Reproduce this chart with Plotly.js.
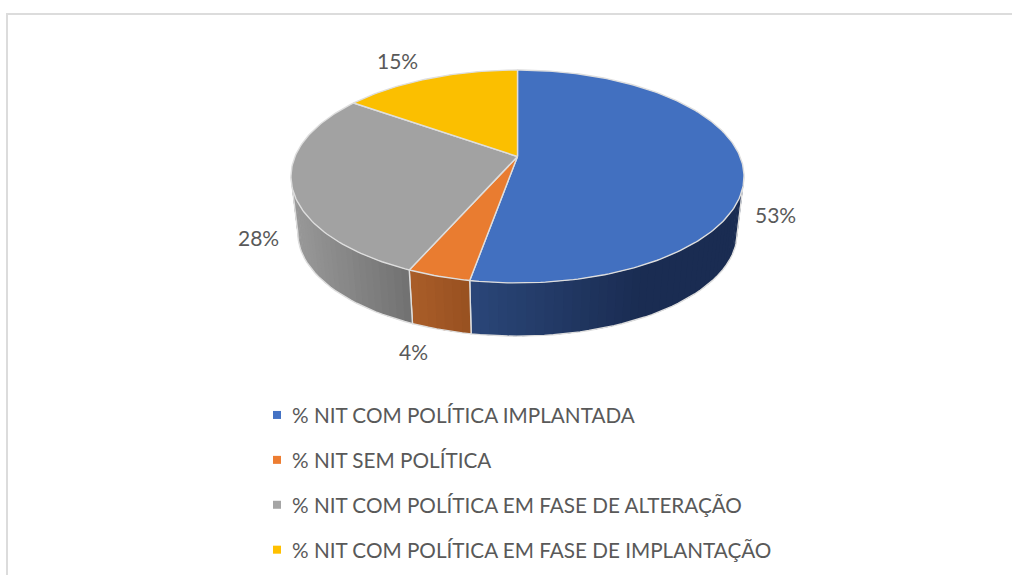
<!DOCTYPE html>
<html><head><meta charset="utf-8">
<script src="https://cdn.plot.ly/plotly-3.0.1.min.js"></script>
<style>
html,body{margin:0;padding:0;background:#fff;overflow:hidden}
#chart{width:1012px;height:575px}
.legend .scatterpts{transform:translate(25px,0)}
</style></head><body><div id="chart"></div>
<script>
const categories = ['% NIT COM POLÍTICA IMPLANTADA','% NIT SEM POLÍTICA','% NIT COM POLÍTICA EM FASE DE ALTERAÇÃO','% NIT COM POLÍTICA EM FASE DE IMPLANTAÇÃO'];
const values = [52.8, 3.8, 28.2, 15.2];
const topColors = ['#4270c0','#e97c30','#a2a2a2','#fbbf00'];
const legendColors = ['#4472c4','#ed7d31','#a5a5a5','#ffc000'];
const wallLeft  = ['#2a4678','#a85c28','#979797','#000000'];
const wallRight = ['#1a2c52','#975020','#6f6f6f','#000000'];
const wallSpan  = [[471,640],[413,471],[297,413],[0,1]];
const labelPos  = [[775,214],[413,351],[258,237],[397,60]];

// projected disc geometry
const cx=517.5, cy=156.5, A=222.5, B=102.7, k=0.1878, sc=0.97, dy=57;
const edge='#dedede';
const total=values.reduce((a,b)=>a+b,0);
function rim(t){const w=1+k*Math.cos(t);return [cx+A*Math.sin(t)/w, cy-B*Math.cos(t)/w];}
function low(t){const w=1+k*Math.cos(t);return [cx+sc*A*Math.sin(t)/w, cy+dy-sc*B*Math.cos(t)/w];}
function hex(c){return [1,3,5].map(i=>parseInt(c.substr(i,2),16));}
function mix(a,b,t){t=Math.max(0,Math.min(1,t));const p=hex(a),q=hex(b);return 'rgb('+p.map((v,i)=>Math.round(v+(q[i]-v)*t)).join(',')+')';}

const traces=[];
// legend entries
categories.forEach((c,i)=>traces.push({type:'scatter',mode:'markers',x:[null],y:[null],name:c,legendgroup:'g'+i,
  marker:{symbol:'square',size:8,color:legendColors[i]},showlegend:true}));

const tan=Math.acos(-k), visA=tan, visB=2*Math.PI-tan;
let start=0; const bounds=values.map(v=>{const s=start;start+=v/total*2*Math.PI;return [s,start];});
// side walls
bounds.forEach(([s,e],i)=>{
  const a=Math.max(s,visA), b=Math.min(e,visB);
  if(b<=a) return;
  const n=Math.max(2,Math.ceil((b-a)/(Math.PI/90)));
  for(let j=0;j<n;j++){
    const t0=a+(b-a)*j/n, t1=Math.min(b,a+(b-a)*(j+1.4)/n), p=[rim(t0),rim(t1),low(t1),low(t0),rim(t0)];
    const xm=(p[0][0]+p[1][0])/2, col=mix(wallLeft[i],wallRight[i],(xm-wallSpan[i][0])/(wallSpan[i][1]-wallSpan[i][0]));
    traces.push({type:'scatter',mode:'lines',x:p.map(q=>q[0]),y:p.map(q=>q[1]),fill:'toself',fillcolor:col,
      line:{color:col,width:0},showlegend:false,hoverinfo:'skip'});
  }
  const out=[];
  for(let j=0;j<=n;j++) out.push(low(a+(b-a)*j/n));
  out.unshift(rim(a)); out.push(rim(b));
  traces.push({type:'scatter',mode:'lines',x:out.map(q=>q[0]),y:out.map(q=>q[1]),line:{color:edge,width:1.4},showlegend:false,hoverinfo:'skip'});
});
// top faces
bounds.forEach(([s,e],i)=>{
  const n=Math.ceil((e-s)/(Math.PI/180)), pts=[[cx,cy]];
  for(let j=0;j<=n;j++) pts.push(rim(s+(e-s)*j/n));
  pts.push([cx,cy]);
  traces.push({type:'scatter',mode:'lines',x:pts.map(q=>q[0]),y:pts.map(q=>q[1]),fill:'toself',fillcolor:topColors[i],
    line:{color:edge,width:1.4},showlegend:false,hoverinfo:'skip'});
});

const font={family:'Lato, Carlito, sans-serif',size:20.7,color:'#595959'};
const labelFont={family:'Lato, Carlito, sans-serif',size:21,color:'#595959'};
const layout={
  width:1012,height:575,margin:{l:0,r:0,t:0,b:0},paper_bgcolor:'#fff',plot_bgcolor:'#fff',
  xaxis:{range:[0,1012],visible:false,fixedrange:true},
  yaxis:{range:[575,0],visible:false,fixedrange:true},
  showlegend:true,
  legend:{x:252/1012,xanchor:'left',y:1-395/575,yanchor:'top',font:font,tracegroupgap:15,traceorder:'grouped',itemclick:false,bgcolor:'rgba(0,0,0,0)',borderwidth:0},
  annotations:values.map((v,i)=>({x:labelPos[i][0],y:labelPos[i][1],xref:'x',yref:'y',text:Math.round(v)+'%',showarrow:false,font:labelFont,xanchor:'center',yanchor:'middle'})),
  shapes:[
    {type:'line',xref:'x',yref:'y',x0:6,x1:1012,y0:14,y1:14,line:{color:'#dcdcdc',width:2},layer:'below'},
    {type:'line',xref:'x',yref:'y',x0:7,x1:7,y0:14,y1:575,line:{color:'#dcdcdc',width:2},layer:'below'}
  ]
};
Plotly.newPlot('chart',traces,layout,{staticPlot:true,displayModeBar:false});
</script></body></html>
